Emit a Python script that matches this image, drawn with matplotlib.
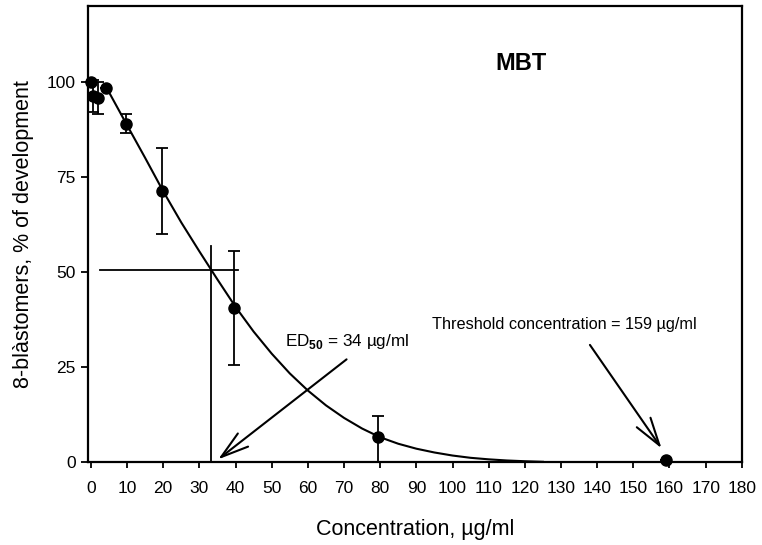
import matplotlib
matplotlib.use("Agg")
import matplotlib.pyplot as plt

plt.rcParams['font.family'] = ['Liberation Sans', 'DejaVu Sans']
plt.rcParams['mathtext.fontset'] = 'custom'
plt.rcParams['mathtext.rm'] = 'Liberation Sans'
plt.rcParams['mathtext.bf'] = 'Liberation Sans:bold'

# measured points (concentration, % of development, error)
conc = [0, 0.5, 2, 4.3, 9.7, 19.6, 39.5, 79.5, 159]
dev = [100, 96.2, 95.8, 98.4, 89, 71.4, 40.5, 6.5, 0.5]
err_low = [0, 4.2, 4.2, 0, 2.5, 11.3, 15, 6.5, 0]
err_high = [0, 4.2, 4.2, 0, 2.5, 11.3, 15, 5.5, 0]

# fitted curve
fit_x = [4.3, 10, 15, 20, 25, 30, 35, 40, 45, 50, 55, 60, 65, 70, 75,
         80, 85, 90, 95, 100, 105, 110, 115, 120, 125]
fit_y = [98.5, 88.6, 80.0, 71.2, 63.0, 55.4, 48.0, 40.8, 34.3, 28.5, 23.3,
         18.8, 14.9, 11.6, 8.8, 6.5, 4.8, 3.5, 2.5, 1.7, 1.1, 0.7, 0.4, 0.2, 0.05]

# ED50 guide lines
ed50_x = 33.2
ed50_y = 50.5

fig = plt.figure(figsize=(7.62, 5.45), dpi=100)
ax = fig.add_axes([0.1155, 0.1523, 0.858, 0.837])

ax.plot(fit_x, fit_y, color="black", lw=1.5, zorder=2)
ax.errorbar(conc, dev, yerr=[err_low, err_high], fmt="o", color="black", ms=8,
            elinewidth=1.3, capsize=4, capthick=1.3, zorder=3, clip_on=False)

ax.plot([2.5, 40.6], [ed50_y, ed50_y], color="black", lw=1.3)
ax.plot([ed50_x, ed50_x], [0, 56.7], color="black", lw=1.3)

arrow = dict(arrowstyle="->,head_length=1.0,head_width=0.3", lw=1.5,
             color="black", mutation_scale=20, shrinkA=0, shrinkB=0)
ax.annotate("", xy=(35.2, 0.7), xytext=(70.7, 27), arrowprops=arrow)
ax.annotate("", xy=(157.8, 3.6), xytext=(138, 30.8), arrowprops=arrow)

ax.text(53.6, 31.6, "ED$_{\\mathbf{50}}$ = 34 \u00b5g/ml", fontsize=12.3,
        ha="left", va="center")
ax.text(94.3, 36.3, "Threshold concentration = 159 \u00b5g/ml", fontsize=11.7,
        ha="left", va="center")
ax.text(119, 104.7, "MBT", fontsize=17, fontweight="bold", ha="center", va="center")

ax.set_xlim(-0.8, 180)
ax.set_ylim(0, 120)
ax.set_xticks(range(0, 181, 10))
ax.set_yticks([0, 25, 50, 75, 100])
ax.tick_params(axis="x", direction="out", length=4, width=1.3, pad=10, labelsize=12.5)
ax.tick_params(axis="y", direction="out", length=5, width=1.3, pad=4, labelsize=12.5)
for s in ax.spines.values():
    s.set_linewidth(1.6)

ax.set_xlabel("Concentration, \u00b5g/ml", fontsize=15.5, labelpad=16)
ax.set_ylabel("8-bl\u00e0stomers, % of development", fontsize=15.5, labelpad=9)

plt.savefig("out.png", dpi=100)
